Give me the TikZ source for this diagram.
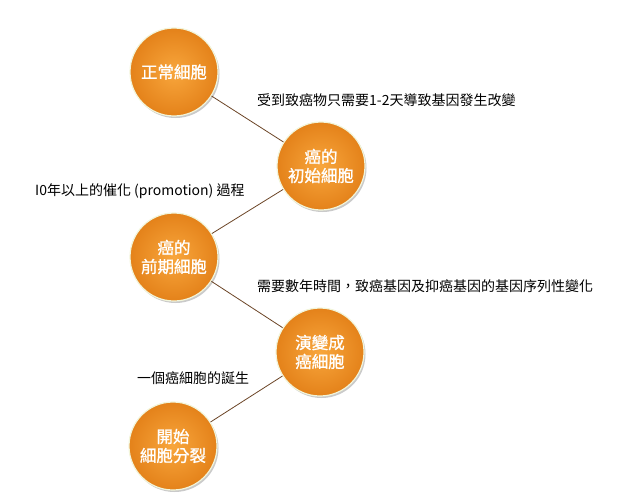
\documentclass[tikz,border=0pt]{standalone}
\usepackage{fontspec}
\setmainfont{Noto Sans CJK TC}
\newfontfamily\cjk{Noto Sans CJK TC}
\newfontfamily\cjkb[FakeBold=1.2]{Noto Sans CJK TC}
\usetikzlibrary{shadows}
\definecolor{orLight}{HTML}{F8A63C}
\definecolor{orDark}{HTML}{E4821A}
\definecolor{glowc}{HTML}{F2F5DA}
\definecolor{linec}{HTML}{6B4426}
\tikzset{
  cell/.style={circle, minimum size=88pt, inner sep=0pt, align=center,
    text=white, font=\cjkb\fontsize{16.5pt}{19pt}\selectfont,
    shading=radial, inner color=orLight, outer color=orDark,
    draw=glowc, line width=1.2pt,
    drop shadow={shadow xshift=1.5pt, shadow yshift=-2pt, opacity=0.35, fill=black!60}},
  link/.style={draw=linec, line width=0.8pt},
  lab/.style={anchor=west, inner sep=0pt, font=\cjk\fontsize{14pt}{16pt}\selectfont, text=black}
}
\begin{document}
\begin{tikzpicture}[x=1pt,y=-1pt]
\useasboundingbox (0,0) rectangle (620,500);
\node[cell] (c1) at (174,72) {正常細胞};
\node[cell] (c2) at (321,166) {癌的\\初始細胞};
\node[cell] (c3) at (174,257) {癌的\\前期細胞};
\node[cell] (c4) at (320,352) {演變成\\癌細胞};
\node[cell] (c5) at (173,446) {開始\\細胞分裂};
\draw[link] (c1) -- (c2);
\draw[link] (c2) -- (c3);
\draw[link] (c3) -- (c4);
\draw[link] (c4) -- (c5);
\node[lab] (l1) at (257,100) {受到致癌物只需要1-2天導致基因發生改變};
\node[lab] (l2) at (35,191) {I0年以上的催化 (promotion) 過程};
\node[lab] (l3) at (257,286) {需要數年時間，致癌基因及抑癌基因的基因序列性變化};
\node[lab] (l4) at (137,378) {一個癌細胞的誕生};
\end{tikzpicture}
\end{document}
